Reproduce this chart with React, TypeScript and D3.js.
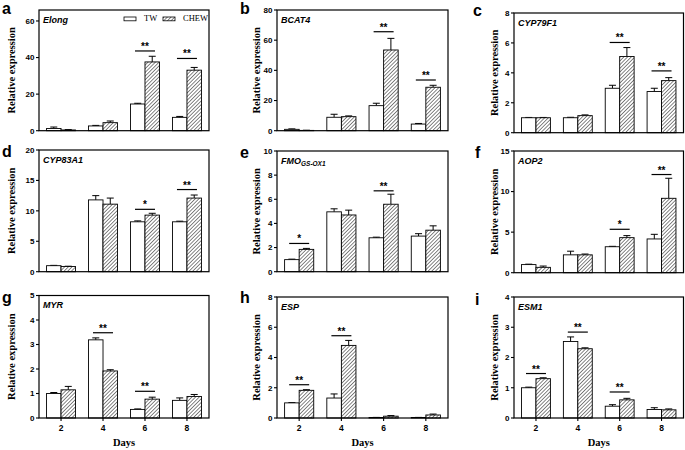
import React from 'react';
import * as d3 from 'd3';

// ---------- data ----------
const days = ['2', '4', '6', '8'];
const seriesNames = ['TW', 'CHEW'];
const panelLetters = ['a', 'b', 'c', 'd', 'e', 'f', 'g', 'h', 'i'];

const elongTW = [1.2, 2.6, 14.6, 7.3];
const elongTWErr = [0.8, 0.3, 0.4, 0.5];
const elongCHEW = [0.4, 4.4, 37.6, 33.1];
const elongCHEWErr = [0.2, 0.9, 3.1, 1.5];
const elongTicks = [0, 20, 40, 60];
const elongSig: [string, string, number][] = [['6', '**', 43.6], ['8', '**', 39.5]];

const bcat4TW = [0.9, 8.9, 16.6, 4.4];
const bcat4TWErr = [0.3, 2.0, 1.6, 0.4];
const bcat4CHEW = [0.2, 9.3, 53.5, 28.8];
const bcat4CHEWErr = [0.1, 0.5, 7.7, 1.3];
const bcat4Ticks = [0, 20, 40, 60, 80];
const bcat4Sig: [string, string, number][] = [['6', '**', 65.6], ['8', '**', 33.6]];

const cyp79TW = [1.0, 1.0, 2.97, 2.75];
const cyp79TWErr = [0.02, 0.03, 0.2, 0.22];
const cyp79CHEW = [1.0, 1.14, 5.09, 3.48];
const cyp79CHEWErr = [0.02, 0.05, 0.6, 0.2];
const cyp79Ticks = [0, 2, 4, 6, 8];
const cyp79Sig: [string, string, number][] = [['6', '**', 6.03], ['8', '**', 4.13]];

const cyp83TW = [0.99, 11.8, 8.2, 8.2];
const cyp83TWErr = [0.05, 0.7, 0.15, 0.1];
const cyp83CHEW = [0.85, 11.1, 9.3, 12.1];
const cyp83CHEWErr = [0.05, 1.0, 0.3, 0.5];
const cyp83Ticks = [0, 5, 10, 15, 20];
const cyp83Sig: [string, string, number][] = [['6', '*', 10.25], ['8', '**', 13.5]];

const fmoTW = [1.0, 4.96, 2.81, 2.95];
const fmoTWErr = [0.04, 0.25, 0.05, 0.2];
const fmoCHEW = [1.85, 4.7, 5.59, 3.44];
const fmoCHEWErr = [0.08, 0.4, 0.83, 0.36];
const fmoTicks = [0, 2, 4, 6, 8, 10];
const fmoSig: [string, string, number][] = [['2', '*', 2.34], ['6', '**', 6.7]];

const aop2TW = [1.0, 2.2, 3.2, 4.16];
const aop2TWErr = [0.05, 0.45, 0.05, 0.57];
const aop2CHEW = [0.66, 2.2, 4.32, 9.17];
const aop2CHEWErr = [0.16, 0.1, 0.25, 2.47];
const aop2Ticks = [0, 5, 10, 15];
const aop2Sig: [string, string, number][] = [['6', '*', 5.35], ['8', '**', 12.1]];

const myrTW = [1.0, 3.19, 0.35, 0.72];
const myrTWErr = [0.04, 0.08, 0.02, 0.1];
const myrCHEW = [1.15, 1.92, 0.77, 0.88];
const myrCHEWErr = [0.14, 0.05, 0.08, 0.08];
const myrTicks = [0, 1, 2, 3, 4, 5];
const myrSig: [string, string, number][] = [['4', '**', 3.48], ['6', '**', 1.09]];

const espTW = [1.0, 1.32, 0.03, 0.03];
const espTWErr = [0.02, 0.27, 0.01, 0.01];
const espCHEW = [1.83, 4.8, 0.12, 0.2];
const espCHEWErr = [0.04, 0.33, 0.04, 0.06];
const espTicks = [0, 2, 4, 6, 8];
const espSig: [string, string, number][] = [['2', '**', 2.2], ['4', '**', 5.44]];

const esm1TW = [1.0, 2.53, 0.39, 0.28];
const esm1TWErr = [0.02, 0.15, 0.05, 0.06];
const esm1CHEW = [1.3, 2.29, 0.6, 0.27];
const esm1CHEWErr = [0.03, 0.03, 0.05, 0.03];
const esm1Ticks = [0, 1, 2, 3, 4];
const esm1Sig: [string, string, number][] = [['2', '**', 1.47], ['4', '**', 2.84], ['6', '**', 0.86]];

const panels = [
  { gene: 'Elong', sub: '', tw: elongTW, twErr: elongTWErr, chew: elongCHEW, chewErr: elongCHEWErr, ticks: elongTicks, max: 66, sig: elongSig },
  { gene: 'BCAT4', sub: '', tw: bcat4TW, twErr: bcat4TWErr, chew: bcat4CHEW, chewErr: bcat4CHEWErr, ticks: bcat4Ticks, max: 80, sig: bcat4Sig },
  { gene: 'CYP79F1', sub: '', tw: cyp79TW, twErr: cyp79TWErr, chew: cyp79CHEW, chewErr: cyp79CHEWErr, ticks: cyp79Ticks, max: 8, sig: cyp79Sig },
  { gene: 'CYP83A1', sub: '', tw: cyp83TW, twErr: cyp83TWErr, chew: cyp83CHEW, chewErr: cyp83CHEWErr, ticks: cyp83Ticks, max: 20, sig: cyp83Sig },
  { gene: 'FMO', sub: 'GS-OX1', tw: fmoTW, twErr: fmoTWErr, chew: fmoCHEW, chewErr: fmoCHEWErr, ticks: fmoTicks, max: 10, sig: fmoSig },
  { gene: 'AOP2', sub: '', tw: aop2TW, twErr: aop2TWErr, chew: aop2CHEW, chewErr: aop2CHEWErr, ticks: aop2Ticks, max: 15, sig: aop2Sig },
  { gene: 'MYR', sub: '', tw: myrTW, twErr: myrTWErr, chew: myrCHEW, chewErr: myrCHEWErr, ticks: myrTicks, max: 5, sig: myrSig },
  { gene: 'ESP', sub: '', tw: espTW, twErr: espTWErr, chew: espCHEW, chewErr: espCHEWErr, ticks: espTicks, max: 8, sig: espSig },
  { gene: 'ESM1', sub: '', tw: esm1TW, twErr: esm1TWErr, chew: esm1CHEW, chewErr: esm1CHEWErr, ticks: esm1Ticks, max: 4, sig: esm1Sig },
];

// ---------- layout ----------
const W = 685;
const H = 450;
const COLS: [number, number][] = [[39, 209], [277, 448], [514, 683.5]];
const TOPS = [10, 10, 13, 150, 151, 151, 295.5, 297, 297];
const ZEROS = [130.7, 130.7, 132.7, 271.7, 271.7, 272.7, 418, 418, 418];
const YLABEL_X = [15, 260, 498];
const LETTER_POS: [number, number][] = [
  [2, 14], [240, 14], [473, 16],
  [2, 157], [240, 158], [475, 158],
  [2, 303], [240, 303], [475, 305],
];
const SANS = '"Liberation Sans", Arial, sans-serif';
const SERIF = '"Liberation Serif", "Times New Roman", serif';

function Panel({ idx }: { idx: number }) {
  const p = panels[idx];
  const col = idx % 3;
  const row = Math.floor(idx / 3);
  const [x0, x1] = COLS[col];
  const top = TOPS[idx];
  const zero = ZEROS[idx];
  const x = d3.scaleBand<string>().domain(days).range([x0, x1]).paddingInner(0.31).paddingOuter(0.18);
  const xs = d3.scaleBand<string>().domain(seriesNames).range([0, x.bandwidth()]);
  const y = d3.scaleLinear().domain([0, p.max]).range([zero, top]);
  const bw = xs.bandwidth();
  const cap = 7;
  const [lx, ly] = LETTER_POS[idx];

  const bars: any[] = [];
  days.forEach((d, i) => {
    seriesNames.forEach((s) => {
      const v = s === 'TW' ? p.tw[i] : p.chew[i];
      const e = s === 'TW' ? p.twErr[i] : p.chewErr[i];
      const bx = (x(d) as number) + (xs(s) as number);
      const cx = bx + bw / 2;
      bars.push(
        <g key={d + s}>
          <line x1={cx} x2={cx} y1={y(v)} y2={y(v + e)} stroke="#000" strokeWidth={1} />
          <line x1={cx - cap / 2} x2={cx + cap / 2} y1={y(v + e)} y2={y(v + e)} stroke="#000" strokeWidth={1} />
          <rect x={bx} y={y(v)} width={bw} height={Math.max(0, zero - y(v))}
            fill={s === 'TW' ? '#fff' : 'url(#hatch)'} stroke="#000" strokeWidth={0.9} />
        </g>
      );
    });
  });

  return (
    <g>
      <text x={lx} y={ly} fontFamily={SANS} fontWeight="bold" fontSize={16}>{panelLetters[idx]}</text>
      {bars}
      <rect x={x0} y={top} width={x1 - x0} height={zero - top} fill="none" stroke="#000" strokeWidth={1.2} />
      {p.ticks.map((t) => (
        <g key={t}>
          <line x1={x0 - 3} x2={x0} y1={y(t)} y2={y(t)} stroke="#000" strokeWidth={1.1} />
          <text x={x0 - 4.5} y={y(t)} dy="0.35em" textAnchor="end" fontFamily={SANS} fontWeight="bold" fontSize={8}>{t}</text>
        </g>
      ))}
      <text transform={`translate(${YLABEL_X[col]},${(top + zero) / 2}) rotate(-90)`} textAnchor="middle"
        fontFamily={SERIF} fontWeight="bold" fontSize={10.5}>Relative expression</text>
      <text x={x0 + 4} y={top + 12.5} fontFamily={SANS} fontWeight="bold" fontStyle="italic" fontSize={9}>
        {p.gene}
        {p.sub ? <tspan fontSize={6.5} dy={2.5}>{p.sub}</tspan> : null}
      </text>
      {p.sig.map(([d, lab, lvl]) => {
        const c = (x(d) as number) + x.bandwidth() / 2;
        return (
          <g key={d}>
            <line x1={c - 10} x2={c + 10} y1={y(lvl)} y2={y(lvl)} stroke="#000" strokeWidth={1.2} />
            <text x={c} y={y(lvl) - 1} textAnchor="middle" fontFamily={SANS} fontWeight="bold" fontSize={10}>{lab}</text>
          </g>
        );
      })}
      {row === 2 && (
        <g>
          {days.map((d) => {
            const c = (x(d) as number) + x.bandwidth() / 2;
            return (
              <g key={d}>
                <line x1={c} x2={c} y1={zero} y2={zero + 3} stroke="#000" strokeWidth={1.1} />
                <text x={c} y={431} textAnchor="middle" fontFamily={SANS} fontWeight="bold" fontSize={8.5}>{d}</text>
              </g>
            );
          })}
          <text x={(x0 + x1) / 2} y={446} textAnchor="middle" fontFamily={SERIF} fontWeight="bold" fontSize={10.5}>Days</text>
        </g>
      )}
      {idx === 0 && (
        <g fontFamily={SERIF} fontSize={8.5}>
          <rect x={124} y={17} width={12} height={3.8} fill="#fff" stroke="#000" strokeWidth={0.8} />
          <text x={144} y={21.3}>TW</text>
          <rect x={163} y={17} width={12} height={3.8} fill="url(#hatch)" stroke="#000" strokeWidth={0.8} />
          <text x={183} y={21.3}>CHEW</text>
        </g>
      )}
    </g>
  );
}

export default function App() {
  return (
    <svg width={W} height={H} viewBox={`0 0 ${W} ${H}`}
      style={{ position: 'absolute', left: 0, top: 0, background: '#fff' }}>
      <defs>
        <pattern id="hatch" patternUnits="userSpaceOnUse" width={2.6} height={2.6} patternTransform="rotate(45)">
          <rect width={2.6} height={2.6} fill="#fff" />
          <line x1={0} y1={0} x2={0} y2={2.6} stroke="#222" strokeWidth={1.1} />
        </pattern>
      </defs>
      <rect width={W} height={H} fill="#fff" />
      {panels.map((_, i) => <Panel key={i} idx={i} />)}
    </svg>
  );
}
